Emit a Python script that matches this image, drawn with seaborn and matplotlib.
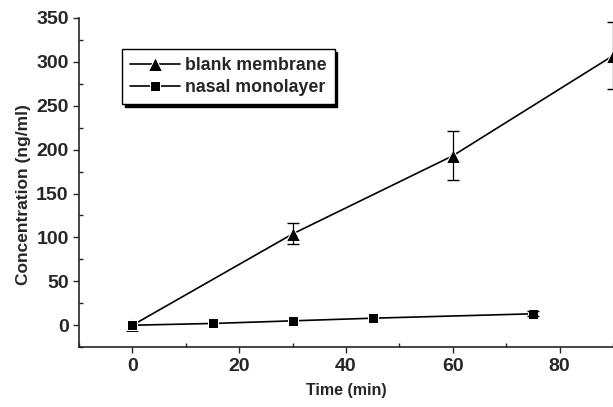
import pandas as pd
import seaborn as sns
import matplotlib
matplotlib.use("Agg")
import matplotlib.pyplot as plt
from matplotlib.ticker import MultipleLocator

# values
blank_time = [0, 30, 60, 90]
blank_conc = [0, 104, 193, 307]
blank_err = [0, 12, 28, 38]

nasal_time = [0, 15, 30, 45, 75]
nasal_conc = [0, 2, 5, 8, 13]
nasal_err = [0, 0, 0, 0, 3]

df = pd.concat([
    pd.DataFrame({"time": blank_time, "conc": blank_conc, "err": blank_err,
                  "group": "blank membrane"}),
    pd.DataFrame({"time": nasal_time, "conc": nasal_conc, "err": nasal_err,
                  "group": "nasal monolayer"}),
])

sns.set_style("ticks")
plt.rcParams["font.family"] = ["Liberation Sans", "DejaVu Sans"]

fig = plt.figure(figsize=(6.13, 4.07), dpi=100)
ax = fig.add_axes([0.129, 0.147, 0.871, 0.809])

sns.lineplot(data=df, x="time", y="conc", hue="group", style="group",
             markers={"blank membrane": "^", "nasal monolayer": "s"},
             dashes=False, palette=["black", "black"], markersize=9,
             linewidth=1.2, ax=ax, clip_on=False)

for g, sub in df.groupby("group"):
    sub = sub[sub["err"] > 0]
    ax.errorbar(sub["time"], sub["conc"], yerr=sub["err"], fmt="none",
                ecolor="black", elinewidth=0.9, capsize=4, clip_on=False)

# triangles bigger than squares, as in the reference
for ln in ax.lines:
    if ln.get_marker() == "^":
        ln.set_markersize(10)
    elif ln.get_marker() == "s":
        ln.set_markersize(7.5)

ax.set_xlim(-10, 90)
ax.set_ylim(-25, 350)
ax.xaxis.set_major_locator(MultipleLocator(20))
ax.xaxis.set_minor_locator(MultipleLocator(10))
ax.yaxis.set_major_locator(MultipleLocator(50))
ax.yaxis.set_minor_locator(MultipleLocator(25))
ax.tick_params(which="major", direction="out", length=4, width=1, labelsize=14)
ax.tick_params(which="minor", direction="in", length=3, width=1)
for t in ax.get_xticklabels() + ax.get_yticklabels():
    t.set_fontweight("bold")
sns.despine(ax=ax)
ax.spines["left"].set_linewidth(1.2)
ax.spines["bottom"].set_linewidth(1.2)

ax.set_xlabel("Time (min)", fontsize=11.5, fontweight="bold", labelpad=6)
ax.set_ylabel("Concentration (ng/ml)", fontsize=12.5, fontweight="bold")
ax.yaxis.set_label_coords(-0.09, 0.465)

leg = ax.legend(loc="upper left", bbox_to_anchor=(0.08, 0.906), frameon=True,
                fancybox=False, shadow={"color": "black", "alpha": 1},
                prop={"weight": "bold", "size": 12.8}, handlelength=2.8,
                handletextpad=0.3, borderpad=0.45, labelspacing=0.3,
                borderaxespad=0)
leg.get_frame().set_edgecolor("black")
leg.get_frame().set_linewidth(1)
for h in leg.legend_handles:
    if h.get_marker() == "^":
        h.set_markersize(10)
    elif h.get_marker() == "s":
        h.set_markersize(7.5)

fig.savefig("out.png", dpi=100)
